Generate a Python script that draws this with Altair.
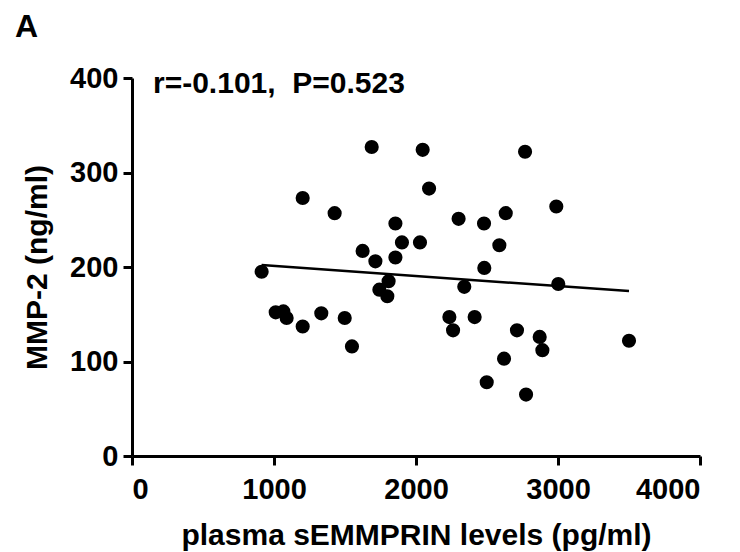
import altair as alt
import pandas as pd

# sEMMPRIN (pg/ml) vs MMP-2 (ng/ml)
semmprin = [913, 1012, 1066, 1089, 1202, 1202, 1333, 1427, 1498, 1549, 1688, 1624,
            1714, 1855, 1855, 1901, 2028, 2047, 2092, 1807, 1742, 1798, 2768, 2300,
            2479, 2632, 2988, 2587, 2481, 2340, 3002, 2235, 2261, 2413, 2711, 2871,
            2890, 2620, 3500, 2498, 2775]
mmp2 = [195, 152, 153, 146, 137, 273, 151, 257, 146, 116, 327, 217,
        206, 210, 246, 226, 226, 324, 283, 185, 176, 169, 322, 251,
        246, 257, 264, 223, 199, 179, 182, 147, 133, 147, 133, 126,
        112, 103, 122, 78, 65]

# fitted regression line end points
fit_x = [913, 3500]
fit_y = [202, 174.5]

x_ticks = [0, 1000, 2000, 3000, 4000]
y_ticks = [0, 100, 200, 300, 400]

annotation = "r=-0.101,\u00a0 P=0.523"
panel_label = "A"

FONT = "Liberation Sans"

pts = pd.DataFrame({"x": semmprin, "y": mmp2})
fit = pd.DataFrame({"x": fit_x, "y": fit_y})

xscale = alt.Scale(domain=[0, 4000], nice=False, zero=False)
yscale = alt.Scale(domain=[0, 400], nice=False, zero=False)

xaxis = alt.Axis(values=x_ticks, title="plasma sEMMPRIN levels (pg/ml)",
                 labelPadding=10, titleY=64, format="d")
yaxis = alt.Axis(values=y_ticks, title="MMP-2 (ng/ml)", labelPadding=5,
                 titleX=-80, format="d")

points = alt.Chart(pts).mark_circle(size=200, color="black", opacity=1).encode(
    x=alt.X("x:Q", scale=xscale, axis=xaxis),
    y=alt.Y("y:Q", scale=yscale, axis=yaxis),
)

line = alt.Chart(fit).mark_line(color="black", strokeWidth=2.5).encode(
    x=alt.X("x:Q", scale=xscale),
    y=alt.Y("y:Q", scale=yscale),
)

ann = alt.Chart(pd.DataFrame({"t": [annotation]})).mark_text(
    align="left", baseline="alphabetic", font=FONT, fontWeight="bold",
    fontSize=30, color="black"
).encode(x=alt.value(21), y=alt.value(15), text="t:N")

lab = alt.Chart(pd.DataFrame({"t": [panel_label]})).mark_text(
    align="left", baseline="alphabetic", font=FONT, fontWeight="bold",
    fontSize=32, color="black"
).encode(x=alt.value(-117), y=alt.value(-41), text="t:N")

chart = alt.layer(line, points, ann, lab).properties(
    width=568, height=378,
    autosize=alt.AutoSizeParams(type="none"),
    padding={"left": 124, "top": 70, "right": 32, "bottom": 96},
).configure_view(stroke=None).configure_axis(
    grid=False,
    domainColor="black", domainWidth=3,
    tickColor="black", tickWidth=3, tickSize=9,
    labelFont=FONT, labelFontWeight="bold", labelFontSize=29, labelColor="black",
    titleFont=FONT, titleFontWeight="bold", titleFontSize=30, titleColor="black",
)

chart.save("out.html", embed_options={"renderer": "svg", "actions": False})
